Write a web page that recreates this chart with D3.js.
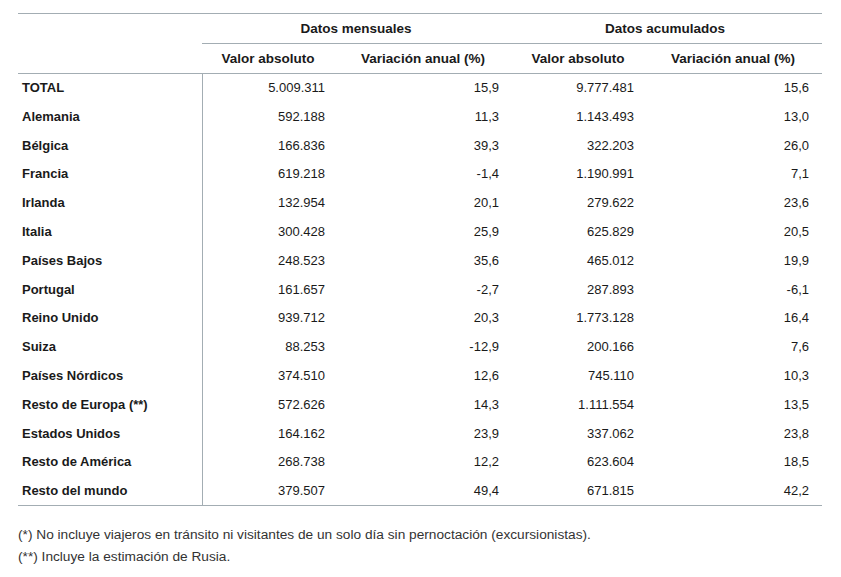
<!DOCTYPE html>
<html>
<head>
<meta charset="utf-8">
<script src="https://cdn.jsdelivr.net/npm/d3@7"></script>
<style>
  html, body { margin: 0; padding: 0; background: #fff; }
  svg { display: block; font-family: "Liberation Sans", Arial, sans-serif; }
</style>
</head>
<body>
<div id="chart"></div>
<script>
const categories = ["TOTAL","Alemania","Bélgica","Francia","Irlanda","Italia","Países Bajos","Portugal","Reino Unido","Suiza","Países Nórdicos","Resto de Europa (**)","Estados Unidos","Resto de América","Resto del mundo"];
const mensualAbs = ["5.009.311","592.188","166.836","619.218","132.954","300.428","248.523","161.657","939.712","88.253","374.510","572.626","164.162","268.738","379.507"];
const mensualVar = ["15,9","11,3","39,3","-1,4","20,1","25,9","35,6","-2,7","20,3","-12,9","12,6","14,3","23,9","12,2","49,4"];
const acumAbs = ["9.777.481","1.143.493","322.203","1.190.991","279.622","625.829","465.012","287.893","1.773.128","200.166","745.110","1.111.554","337.062","623.604","671.815"];
const acumVar = ["15,6","13,0","26,0","7,1","23,6","20,5","19,9","-6,1","16,4","7,6","10,3","13,5","23,8","18,5","42,2"];
const groupHeaders = ["Datos mensuales","Datos acumulados"];
const subHeaders = ["Valor absoluto","Variación anual (%)","Valor absoluto","Variación anual (%)"];
const footnotes = ["(*) No incluye viajeros en tránsito ni visitantes de un solo día sin pernoctación (excursionistas).","(**) Incluye la estimación de Rusia."];

const W = 841, H = 577;
const svg = d3.select("#chart").append("svg").attr("width", W).attr("height", H);

const lineColor = "#a3adb3";
const textColor = "#1a1a1a";
const left = 18, right = 822, divX = 202;

// row scale
const y = d3.scaleBand().domain(categories).range([73, 505]).paddingInner(0).paddingOuter(0);
const valRight = [325, 499, 634, 809];
const headerCenter = [268, 423, 578, 733];
const groupCenter = [356, 665];

// lines
const hlines = [
  {x1: left, x2: right, y: 13.5},
  {x1: divX, x2: right, y: 43.5},
  {x1: left, x2: right, y: 73.5},
  {x1: left, x2: right, y: 505.5}
];
svg.selectAll("line.h").data(hlines).join("line")
  .attr("x1", d => d.x1).attr("x2", d => d.x2)
  .attr("y1", d => d.y).attr("y2", d => d.y)
  .attr("stroke", lineColor).attr("stroke-width", 1);
svg.append("line").attr("x1", divX + 0.5).attr("x2", divX + 0.5)
  .attr("y1", 73.5).attr("y2", 505.5).attr("stroke", lineColor).attr("stroke-width", 1);

// group headers
svg.selectAll("text.g").data(groupHeaders).join("text")
  .attr("x", (d,i) => groupCenter[i]).attr("y", 33)
  .attr("text-anchor", "middle").attr("font-size", 13.5).attr("font-weight", "bold")
  .attr("fill", textColor).text(d => d);

// sub headers
svg.selectAll("text.s").data(subHeaders).join("text")
  .attr("x", (d,i) => headerCenter[i]).attr("y", 63)
  .attr("text-anchor", "middle").attr("font-size", 13.5).attr("font-weight", "bold")
  .attr("fill", textColor).text(d => d);

// row labels
const rowY = d => y(d) + y.bandwidth()/2 + 4.5;
svg.selectAll("text.cat").data(categories).join("text")
  .attr("x", 22).attr("y", d => rowY(d))
  .attr("font-size", 13).attr("font-weight", "bold").attr("fill", textColor).text(d => d);

const cols = [mensualAbs, mensualVar, acumAbs, acumVar];
cols.forEach((arr, ci) => {
  svg.append("g").selectAll("text").data(arr).join("text")
    .attr("x", valRight[ci]).attr("y", (d,i) => rowY(categories[i]))
    .attr("text-anchor", "end").attr("font-size", 13).attr("fill", textColor).text(d => d);
});

// footnotes
svg.selectAll("text.f").data(footnotes).join("text")
  .attr("x", 18).attr("y", (d,i) => 539 + i*22)
  .attr("font-size", 13.7).attr("fill", "#333").text(d => d);
</script>
</body>
</html>
